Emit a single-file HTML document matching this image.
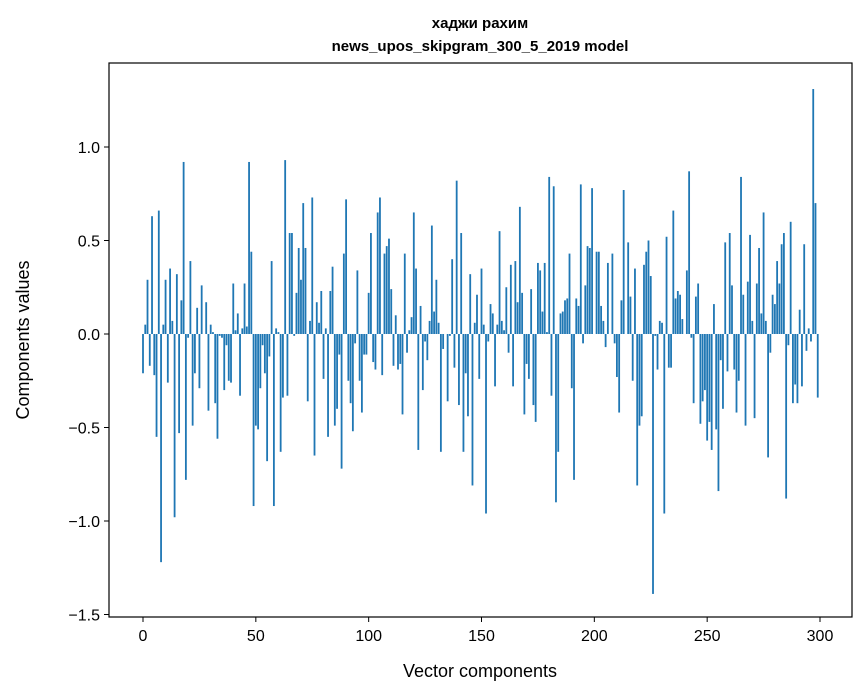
<!DOCTYPE html>
<html><head><meta charset="utf-8"><style>
body{margin:0;background:#fff;}
svg{display:block;font-family:"Liberation Sans","DejaVu Sans",sans-serif;}
</style></head><body>
<svg id="chart" width="867" height="696" viewBox="0 0 867 696" xmlns="http://www.w3.org/2000/svg">
<rect width="867" height="696" fill="#fff"/>
<text x="480" y="28" text-anchor="middle" font-size="15" font-weight="bold">хаджи рахим</text>
<text x="480" y="51" text-anchor="middle" font-size="15" font-weight="bold">news_upos_skipgram_300_5_2019 model</text>
<g id="bars"></g>
<g id="axes"></g>
<rect x="109" y="63" width="743" height="554" fill="none" stroke="#000" stroke-width="1.2"/>
<text x="480" y="677" text-anchor="middle" font-size="18">Vector components</text>
<text transform="translate(29,340) rotate(-90)" text-anchor="middle" font-size="18">Components values</text>
</svg>
<script>
const values1 = [-0.21,0.05,0.29,-0.17,0.63,-0.22,-0.55,0.66,-1.22,0.05,0.29,-0.26,0.35,0.07,-0.98,0.32,-0.53,0.18,0.92,-0.78,-0.02,0.39,-0.49,-0.21,0.14,-0.29,0.26,0.0,0.17,-0.41,0.05,0.01,-0.37,-0.56,-0.01,-0.02,-0.3,-0.06,-0.25,-0.26,0.27,0.02,0.11,-0.33,0.03,0.27,0.04,0.92,0.44,-0.92,-0.49,-0.51,-0.29,-0.06,-0.21,-0.68,-0.12,0.39];
const values2 = [-0.92,0.03,0.01,-0.63,-0.34,0.93,-0.33,0.54,0.54,-0.01,0.22,0.46,0.29,0.7,0.46,-0.36,0.07,0.73,-0.65,0.17,0.06,0.23,-0.24,0.03,-0.55,0.23,0.36,-0.49,-0.4,-0.11,-0.72,0.43,0.72,-0.25,-0.37,-0.52,-0.05,0.34,-0.25,-0.42,-0.11,-0.11,0.22,0.54,-0.15,-0.19,0.65,0.73,-0.22,0.43,0.47,0.51,0.24,-0.17,0.1,-0.19,-0.16,-0.43,0.43,-0.1,0.02,0.09];
const values3 = [0.65,0.35,-0.62,0.15,-0.3,-0.04,-0.14,0.07,0.58,0.12,0.29,0.06,-0.63,-0.08,0,-0.36,-0.01,0.4,-0.18,0.82,-0.38,0.54,-0.63,-0.21,-0.44,0.32,-0.81,0.06,0.21,-0.24,0.35,0.05,-0.96,-0.04,0.16,0.11,-0.28,0.05,0.55,0.07,0.02,0.25,-0.1,0.37,-0.28,0.39,0.17,0.68,0.22,-0.43,-0.16,-0.24,0.24,-0.38,-0.47,0.38,0.34,0.12,0.38,0.01];
const values4 = [0.84,-0.33,0.79,-0.9,-0.63,0.11,0.12,0.18,0.19,0.43,-0.29,-0.78,0.19,0.15,0.8,-0.05,0.26,0.47,0.46,0.78,0,0.44,0.44,0.15,0.07,-0.07,0.38,0,0.43,-0.05,-0.23,-0.42,0.18,0.77,0,0.49,0.2,-0.25,0.35,-0.81,-0.49,-0.44,0.37,0.44,0.5,0.31,-1.39,-0.01,-0.19,0.07,0.06,-0.96,0.52,-0.18,-0.18,0.66,0.19,0.23,0.21,0.08];
const values5 = [0.0,0.34,0.87,-0.02,-0.37,0.2,0.27,-0.48,-0.36,-0.3,-0.57,-0.47,-0.62,0.16,-0.51,-0.84,-0.14,-0.4,0.49,-0.2,0.54,0.26,-0.19,-0.42,-0.25,0.84,0.21,-0.49,0.28,0.53,0.07,-0.45,0.27,0.46,0.11,0.65,0.07,-0.66,-0.1,0.21,0.16,0.39,0.27,0.48,0.54,-0.88,-0.06,0.6,-0.37,-0.27,-0.37,0.13,-0.28,0.48,-0.09,0.03,-0.04,1.31,0.7,-0.34];
const values = values1.concat(values2, values3, values4, values5);
const xTicks = [0,50,100,150,200,250,300];
const yTicks = [-1.5,-1.0,-0.5,0.0,0.5,1.0];
const yTickLabels = ["\u22121.5","\u22121.0","\u22120.5","0.0","0.5","1.0"];

const NS = "http://www.w3.org/2000/svg";
function xScale(v){ return 143 + v * (677/300); }
function yScale(v){ return 334 - v * 187; }

const barsG = document.getElementById('bars');
values.forEach((v, i) => {
  const r = document.createElementNS(NS, 'rect');
  const x0 = xScale(i - 0.4), x1 = xScale(i + 0.4);
  const y0 = Math.min(yScale(v), yScale(0)), y1 = Math.max(yScale(v), yScale(0));
  r.setAttribute('x', x0);
  r.setAttribute('y', y0);
  r.setAttribute('width', x1 - x0);
  r.setAttribute('height', Math.max(y1 - y0, 0.01));
  r.setAttribute('fill', '#1f77b4');
  
  
  barsG.appendChild(r);
});

const axesG = document.getElementById('axes');
xTicks.forEach(t => {
  const x = xScale(t);
  const l = document.createElementNS(NS, 'line');
  l.setAttribute('x1', x); l.setAttribute('x2', x);
  l.setAttribute('y1', 617); l.setAttribute('y2', 622);
  l.setAttribute('stroke', '#000');
  
  
  axesG.appendChild(l);
  const tx = document.createElementNS(NS, 'text');
  tx.setAttribute('x', x); tx.setAttribute('y', 641);
  tx.setAttribute('text-anchor', 'middle');
  tx.setAttribute('font-size', '16');
  tx.textContent = t;
  
  
  axesG.appendChild(tx);
});
yTicks.forEach((t, k) => {
  const y = yScale(t);
  const l = document.createElementNS(NS, 'line');
  l.setAttribute('x1', 104); l.setAttribute('x2', 109);
  l.setAttribute('y1', y); l.setAttribute('y2', y);
  l.setAttribute('stroke', '#000');
  
  
  axesG.appendChild(l);
  const tx = document.createElementNS(NS, 'text');
  tx.setAttribute('x', 100); tx.setAttribute('y', y + 6);
  tx.setAttribute('text-anchor', 'end');
  tx.setAttribute('font-size', '16');
  tx.textContent = yTickLabels[k];
  
  
  axesG.appendChild(tx);
});
</script>
</body></html>
